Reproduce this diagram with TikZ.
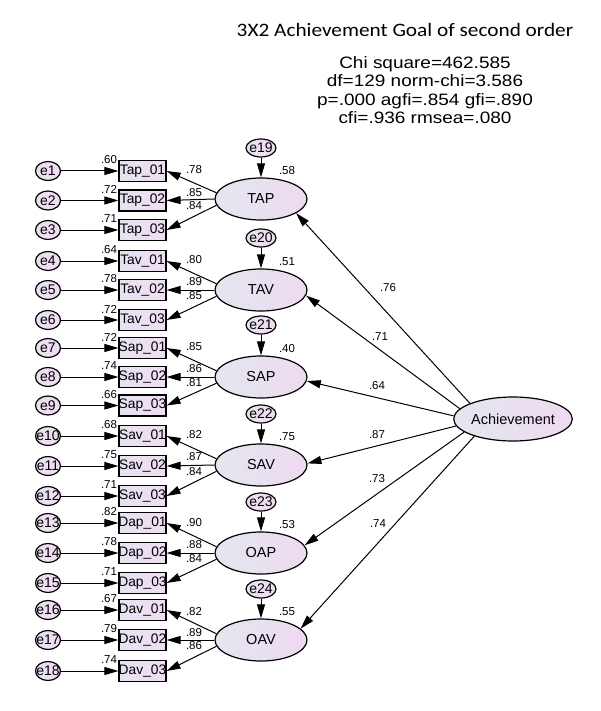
\documentclass[tikz,border=0pt]{standalone}
\usepackage{fontspec}
\setmainfont{Liberation Sans}
\newfontfamily\titlefont{Carlito}[FakeStretch=1.12]
\newfontfamily\statfont{Liberation Sans}[FakeStretch=1.15]
\usetikzlibrary{shapes.geometric,arrows.meta}
\definecolor{latL}{HTML}{E3E6EE}
\definecolor{latR}{HTML}{EFDAF1}
\definecolor{boxL}{HTML}{E6E2F0}
\definecolor{boxR}{HTML}{F0DDF3}
\definecolor{errL}{HTML}{E9E2F0}
\definecolor{errR}{HTML}{F3DBF4}
\begin{document}
\begin{tikzpicture}[x=1pt,y=-1pt,
 latent/.style={ellipse,draw,line width=1.2pt,minimum width=92pt,minimum height=42pt,inner sep=0pt,left color=latL,right color=latR,font=\fontsize{14.5}{15}\selectfont},
 err/.style={ellipse,draw,line width=1.2pt,minimum width=25pt,minimum height=19pt,inner sep=0pt,left color=errL,right color=errR,font=\fontsize{14}{14}\selectfont},
 err2/.style={err,minimum width=30pt,minimum height=18pt},
 obs/.style={rectangle,draw,line width=1.2pt,minimum width=47pt,minimum height=21pt,inner sep=0pt,left color=boxL,right color=boxR,font=\fontsize{13.8}{14}\selectfont},
 arr/.style={-{Triangle[length=14pt,width=8pt]},line width=1pt},
 num/.style={font=\fontsize{11.5}{12}\selectfont,inner sep=0pt}
]
\useasboundingbox (0,0) rectangle (600,711);
\fill[white] (0,0) rectangle (600,711);

% title and fit statistics
\node[font=\titlefont\fontsize{19}{20}\selectfont] (title) at (405,30) {3X2 Achievement Goal of second order};
\node[font=\statfont\fontsize{16.5}{18.5}\selectfont,align=center] (stats) at (425,90)
 {Chi square=462.585\\df=129 norm-chi=3.586\\p=.000 agfi=.854 gfi=.890\\cfi=.936 rmsea=.080};

% second-order factor
\node[latent,minimum width=93pt,minimum height=44pt] (ach) at (513,419) {Achievement};

% first-order latents
\foreach \lat/\y/\ey/\ename/\rsq/\pth/\px/\py/\sa/\ta in {
  TAP/199/148/e19/.58/.76/388/288/160/-22,
  TAV/290/238/e20/.51/.71/380/337/169/-7,
  SAP/377/325/e21/.40/.64/377/386/177/-5,
  SAV/465/414/e22/.75/.87/377/435/187/2,
  OAP/553/502/e23/.53/.73/377/479/195/10,
  OAV/640/589/e24/.55/.74/378/524/204/16}{
  \node[latent] (\lat) at (261,\y) {\lat};
  \node[err2] (\ename) at (261,\ey) {\makebox[0pt][c]{\ename}};
  \draw[arr] (\ename) -- (\lat);
  \node[num] (r\lat) at (287,\y-28) {\rsq};
  \draw[arr] (ach.\sa) -- (\lat.\ta);
  \node[num] (p\lat) at (\px,\py) {\pth};
}

% indicators
\foreach \n/\t/\y/\v/\l/\ly/\lat/\ang in {
  1/Tap\_01/171/.60/.78/170/TAP/172,
  2/Tap\_02/200.5/.72/.85/192.5/TAP/180,
  3/Tap\_03/230/.71/.84/205.5/TAP/188,
  4/Tav\_01/261/.64/.80/260/TAV/172,
  5/Tav\_02/290/.78/.89/282/TAV/180,
  6/Tav\_03/320/.72/.85/296/TAV/188,
  7/Sap\_01/348/.72/.85/347/SAP/172,
  8/Sap\_02/377/.74/.86/369/SAP/180,
  9/Sap\_03/405.5/.66/.81/383/SAP/188,
  10/Sav\_01/436/.68/.82/435/SAV/172,
  11/Sav\_02/466/.75/.87/457/SAV/180,
  12/Sav\_03/496/.71/.84/472/SAV/188,
  13/Dap\_01/523/.82/.90/523/OAP/172,
  14/Dap\_02/553/.78/.88/545/OAP/180,
  15/Dap\_03/583/.71/.84/559/OAP/188,
  16/Dav\_01/610/.67/.82/612/OAV/172,
  17/Dav\_02/640/.79/.89/633/OAV/180,
  18/Dav\_03/671/.74/.86/646/OAV/188}{
  \node[obs] (b\n) at (142.5,\y) {\makebox[0pt][c]{\t}};
  \node[err] (e\n) at (48,\y) {\makebox[0pt][c]{e\n}};
  \draw[arr] (e\n) -- (b\n);
  \draw[arr] (\lat.\ang) -- (b\n.east);
  \node[num] (v\n) at (109,\y-11) {\v};
  \node[num] (l\n) at (194,\ly) {\l};
}
\end{tikzpicture}
\end{document}
